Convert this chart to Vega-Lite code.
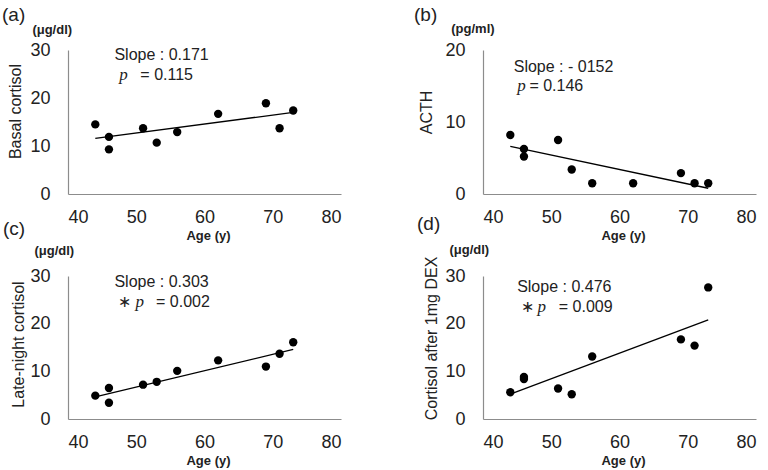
{
  "$schema": "https://vega.github.io/schema/vega-lite/v6.json",
  "padding": {"left": 2, "top": 5, "right": 5, "bottom": 5},
  "background": "white",
  "config": {
    "font": "Liberation Sans",
    "view": {"stroke": null},
    "axis": {
      "grid": false, "ticks": false, "tickSize": 0,
      "domainColor": "#8c8c8c", "domainWidth": 1.2,
      "labelFont": "Liberation Sans", "labelFontSize": 18, "labelColor": "#222222",
      "titleFont": "Liberation Sans", "titleColor": "#222222"
    },
    "axisX": {"labelPadding": 14, "titleFontSize": 13, "titleFontWeight": "bold", "titleX": 140, "titleY": 41, "titleBaseline": "middle", "titleAlign": "center"},
    "axisY": {"labelPadding": 18, "titleFontSize": 16, "titleFontWeight": "normal", "titleAngle": 270, "titleBaseline": "middle", "titleAlign": "center"},
    "title": {"fontSize": 19, "fontWeight": "normal", "anchor": "start", "frame": "group", "color": "#222222", "font": "Liberation Sans"}
  },
  "datasets": {
    "points": [
      {"panel": "a", "age": 44, "value": 14.5}, {"panel": "a", "age": 46, "value": 11.9}, {"panel": "a", "age": 46, "value": 9.3},
      {"panel": "a", "age": 51, "value": 13.7}, {"panel": "a", "age": 53, "value": 10.7}, {"panel": "a", "age": 56, "value": 12.9},
      {"panel": "a", "age": 62, "value": 16.7}, {"panel": "a", "age": 69, "value": 18.9}, {"panel": "a", "age": 71, "value": 13.7},
      {"panel": "a", "age": 73, "value": 17.4},
      {"panel": "b", "age": 44, "value": 8.2}, {"panel": "b", "age": 46, "value": 6.25}, {"panel": "b", "age": 46, "value": 5.2},
      {"panel": "b", "age": 51, "value": 7.5}, {"panel": "b", "age": 53, "value": 3.4}, {"panel": "b", "age": 56, "value": 1.5},
      {"panel": "b", "age": 62, "value": 1.5}, {"panel": "b", "age": 69, "value": 2.9}, {"panel": "b", "age": 71, "value": 1.5},
      {"panel": "b", "age": 73, "value": 1.5},
      {"panel": "c", "age": 44, "value": 4.9}, {"panel": "c", "age": 46, "value": 6.5}, {"panel": "c", "age": 46, "value": 3.4},
      {"panel": "c", "age": 51, "value": 7.2}, {"panel": "c", "age": 53, "value": 7.8}, {"panel": "c", "age": 56, "value": 10.1},
      {"panel": "c", "age": 62, "value": 12.3}, {"panel": "c", "age": 69, "value": 11.0}, {"panel": "c", "age": 71, "value": 13.7},
      {"panel": "c", "age": 73, "value": 16.1},
      {"panel": "d", "age": 44, "value": 5.6}, {"panel": "d", "age": 46, "value": 8.8}, {"panel": "d", "age": 46, "value": 8.4},
      {"panel": "d", "age": 51, "value": 6.4}, {"panel": "d", "age": 53, "value": 5.2}, {"panel": "d", "age": 56, "value": 13.1},
      {"panel": "d", "age": 69, "value": 16.7}, {"panel": "d", "age": 71, "value": 15.4}, {"panel": "d", "age": 73, "value": 27.6}
    ],
    "fits": [
      {"panel": "a", "age": 44, "value": 11.6}, {"panel": "a", "age": 73, "value": 17.0},
      {"panel": "b", "age": 44, "value": 6.6}, {"panel": "b", "age": 73, "value": 0.8},
      {"panel": "c", "age": 44, "value": 4.65}, {"panel": "c", "age": 73, "value": 14.6},
      {"panel": "d", "age": 44, "value": 5.2}, {"panel": "d", "age": 73, "value": 20.8}
    ],
    "notes": [
      {"panel": "a", "part": "slope", "age": 46.8, "value": 29.0, "text": "Slope : 0.171"},
      {"panel": "a", "part": "p", "age": 47.5, "value": 24.8, "text": "p"},
      {"panel": "a", "part": "pvalue", "age": 50.6, "value": 24.8, "text": "=  0.115"},
      {"panel": "a", "part": "unit", "age": 40.6, "value": 34.2, "text": "(μg/dl)"},
      {"panel": "b", "part": "slope", "age": 44.5, "value": 17.7, "text": "Slope : - 0152"},
      {"panel": "b", "part": "p", "age": 45.0, "value": 15.0, "text": "p"},
      {"panel": "b", "part": "pvalue", "age": 46.8, "value": 15.0, "text": "= 0.146"},
      {"panel": "b", "part": "unit", "age": 41.7, "value": 22.96, "text": "(pg/ml)"},
      {"panel": "c", "part": "slope", "age": 46.8, "value": 28.8, "text": "Slope : 0.303"},
      {"panel": "c", "part": "star", "age": 47.3, "value": 24.6, "text": "∗"},
      {"panel": "c", "part": "p", "age": 49.9, "value": 24.6, "text": "p"},
      {"panel": "c", "part": "pvalue", "age": 52.9, "value": 24.6, "text": "=  0.002"},
      {"panel": "c", "part": "unit", "age": 40.9, "value": 35.3, "text": "(μg/dl)"},
      {"panel": "d", "part": "slope", "age": 45.0, "value": 27.6, "text": "Slope : 0.476"},
      {"panel": "d", "part": "star", "age": 45.5, "value": 23.6, "text": "∗"},
      {"panel": "d", "part": "p", "age": 48.0, "value": 23.6, "text": "p"},
      {"panel": "d", "part": "pvalue", "age": 51.1, "value": 23.6, "text": "=  0.009"},
      {"panel": "d", "part": "unit", "age": 40.9, "value": 35.4, "text": "(μg/dl)"}
    ]
  },
  "columns": 2,
  "bounds": "flush",
  "spacing": {"row": 82, "column": 142},
  "concat": [
    {
      "width": 273, "height": 144,
      "title": {"text": "(a)", "dx": -66, "dy": 5},
      "encoding": {
        "x": {"field": "age", "type": "quantitative", "scale": {"domain": [40, 80], "nice": false}, "axis": {"values": [40, 50, 60, 70, 80], "title": "Age (y)"}},
        "y": {"field": "value", "type": "quantitative", "scale": {"domain": [0, 30], "nice": false}, "axis": {"values": [0, 10, 20, 30], "title": "Basal cortisol", "titleX": -53, "titleY": 61}}
      },
      "layer": [
        {"data": {"name": "points"}, "transform": [{"filter": "datum.panel === 'a'"}], "mark": {"type": "circle", "size": 70, "color": "black", "opacity": 1}},
        {"data": {"name": "fits"}, "transform": [{"filter": "datum.panel === 'a'"}], "mark": {"type": "line", "color": "black", "strokeWidth": 1.3}},
        {"data": {"name": "notes"}, "transform": [{"filter": "datum.panel === 'a' && (datum.part === 'slope' || datum.part === 'pvalue' || datum.part === 'star')"}], "mark": {"type": "text", "align": "left", "baseline": "middle", "fontSize": 16, "color": "#222222"}, "encoding": {"text": {"field": "text"}}},
        {"data": {"name": "notes"}, "transform": [{"filter": "datum.panel === 'a' && datum.part === 'p'"}], "mark": {"type": "text", "align": "left", "baseline": "middle", "fontSize": 17, "font": "Liberation Serif", "fontStyle": "italic", "color": "#222222"}, "encoding": {"text": {"field": "text"}}},
        {"data": {"name": "notes"}, "transform": [{"filter": "datum.panel === 'a' && datum.part === 'unit'"}], "mark": {"type": "text", "align": "right", "baseline": "middle", "fontSize": 13, "fontWeight": "bold", "color": "#222222"}, "encoding": {"text": {"field": "text"}}}
      ]
    },
    {
      "width": 273, "height": 144,
      "title": {"text": "(b)", "dx": -69, "dy": 6},
      "encoding": {
        "x": {"field": "age", "type": "quantitative", "scale": {"domain": [40, 80], "nice": false}, "axis": {"values": [40, 50, 60, 70, 80], "title": "Age (y)"}},
        "y": {"field": "value", "type": "quantitative", "scale": {"domain": [0, 20], "nice": false}, "axis": {"values": [0, 10, 20], "title": "ACTH", "titleX": -57, "titleY": 62}}
      },
      "layer": [
        {"data": {"name": "points"}, "transform": [{"filter": "datum.panel === 'b'"}], "mark": {"type": "circle", "size": 70, "color": "black", "opacity": 1}},
        {"data": {"name": "fits"}, "transform": [{"filter": "datum.panel === 'b'"}], "mark": {"type": "line", "color": "black", "strokeWidth": 1.3}},
        {"data": {"name": "notes"}, "transform": [{"filter": "datum.panel === 'b' && (datum.part === 'slope' || datum.part === 'pvalue' || datum.part === 'star')"}], "mark": {"type": "text", "align": "left", "baseline": "middle", "fontSize": 16, "color": "#222222"}, "encoding": {"text": {"field": "text"}}},
        {"data": {"name": "notes"}, "transform": [{"filter": "datum.panel === 'b' && datum.part === 'p'"}], "mark": {"type": "text", "align": "left", "baseline": "middle", "fontSize": 17, "font": "Liberation Serif", "fontStyle": "italic", "color": "#222222"}, "encoding": {"text": {"field": "text"}}},
        {"data": {"name": "notes"}, "transform": [{"filter": "datum.panel === 'b' && datum.part === 'unit'"}], "mark": {"type": "text", "align": "right", "baseline": "middle", "fontSize": 13, "fontWeight": "bold", "color": "#222222"}, "encoding": {"text": {"field": "text"}}}
      ]
    },
    {
      "width": 273, "height": 143,
      "title": {"text": "(c)", "dx": -65, "dy": -2},
      "encoding": {
        "x": {"field": "age", "type": "quantitative", "scale": {"domain": [40, 80], "nice": false}, "axis": {"values": [40, 50, 60, 70, 80], "title": "Age (y)"}},
        "y": {"field": "value", "type": "quantitative", "scale": {"domain": [0, 30], "nice": false}, "axis": {"values": [0, 10, 20, 30], "title": "Late-night cortisol", "titleX": -50, "titleY": 68}}
      },
      "layer": [
        {"data": {"name": "points"}, "transform": [{"filter": "datum.panel === 'c'"}], "mark": {"type": "circle", "size": 70, "color": "black", "opacity": 1}},
        {"data": {"name": "fits"}, "transform": [{"filter": "datum.panel === 'c'"}], "mark": {"type": "line", "color": "black", "strokeWidth": 1.3}},
        {"data": {"name": "notes"}, "transform": [{"filter": "datum.panel === 'c' && (datum.part === 'slope' || datum.part === 'pvalue' || datum.part === 'star')"}], "mark": {"type": "text", "align": "left", "baseline": "middle", "fontSize": 16, "color": "#222222"}, "encoding": {"text": {"field": "text"}}},
        {"data": {"name": "notes"}, "transform": [{"filter": "datum.panel === 'c' && datum.part === 'p'"}], "mark": {"type": "text", "align": "left", "baseline": "middle", "fontSize": 17, "font": "Liberation Serif", "fontStyle": "italic", "color": "#222222"}, "encoding": {"text": {"field": "text"}}},
        {"data": {"name": "notes"}, "transform": [{"filter": "datum.panel === 'c' && datum.part === 'unit'"}], "mark": {"type": "text", "align": "right", "baseline": "middle", "fontSize": 13, "fontWeight": "bold", "color": "#222222"}, "encoding": {"text": {"field": "text"}}}
      ]
    },
    {
      "width": 273, "height": 143,
      "title": {"text": "(d)", "dx": -66, "dy": -6},
      "encoding": {
        "x": {"field": "age", "type": "quantitative", "scale": {"domain": [40, 80], "nice": false}, "axis": {"values": [40, 50, 60, 70, 80], "title": "Age (y)"}},
        "y": {"field": "value", "type": "quantitative", "scale": {"domain": [0, 30], "nice": false}, "axis": {"values": [0, 10, 20, 30], "title": "Cortisol after 1mg DEX", "titleX": -52, "titleY": 62}}
      },
      "layer": [
        {"data": {"name": "points"}, "transform": [{"filter": "datum.panel === 'd'"}], "mark": {"type": "circle", "size": 70, "color": "black", "opacity": 1}},
        {"data": {"name": "fits"}, "transform": [{"filter": "datum.panel === 'd'"}], "mark": {"type": "line", "color": "black", "strokeWidth": 1.3}},
        {"data": {"name": "notes"}, "transform": [{"filter": "datum.panel === 'd' && (datum.part === 'slope' || datum.part === 'pvalue' || datum.part === 'star')"}], "mark": {"type": "text", "align": "left", "baseline": "middle", "fontSize": 16, "color": "#222222"}, "encoding": {"text": {"field": "text"}}},
        {"data": {"name": "notes"}, "transform": [{"filter": "datum.panel === 'd' && datum.part === 'p'"}], "mark": {"type": "text", "align": "left", "baseline": "middle", "fontSize": 17, "font": "Liberation Serif", "fontStyle": "italic", "color": "#222222"}, "encoding": {"text": {"field": "text"}}},
        {"data": {"name": "notes"}, "transform": [{"filter": "datum.panel === 'd' && datum.part === 'unit'"}], "mark": {"type": "text", "align": "right", "baseline": "middle", "fontSize": 13, "fontWeight": "bold", "color": "#222222"}, "encoding": {"text": {"field": "text"}}}
      ]
    }
  ]
}
